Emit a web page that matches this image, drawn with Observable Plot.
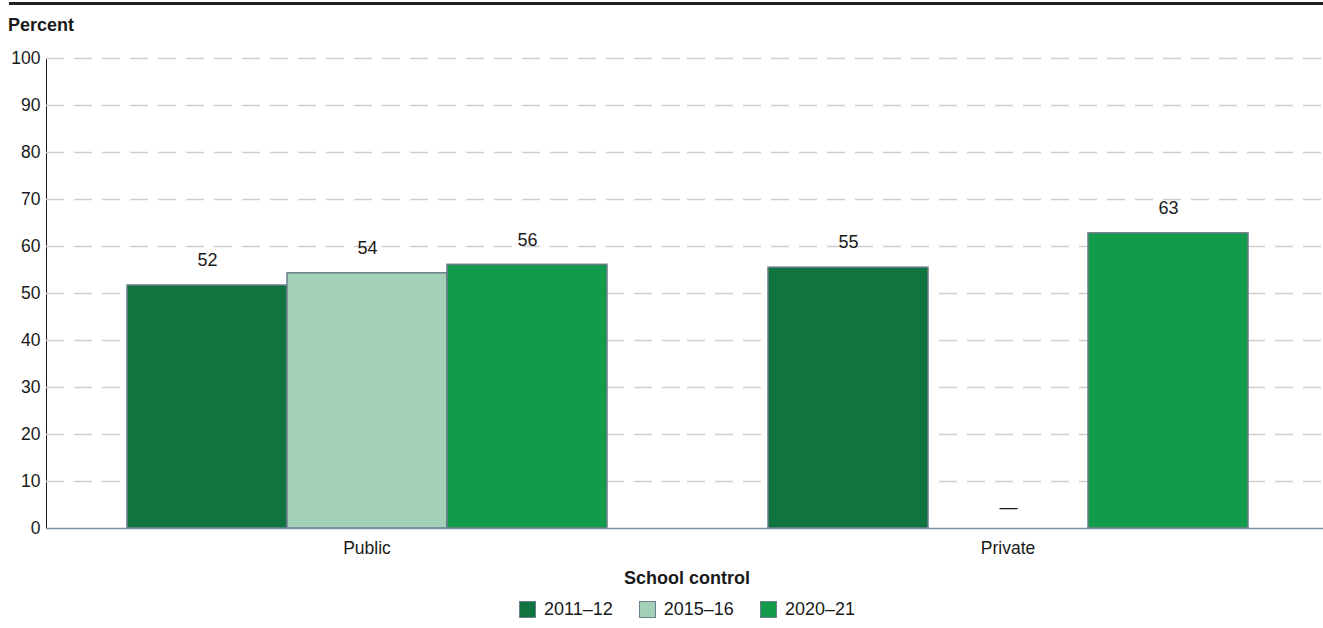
<!DOCTYPE html>
<html>
<head>
<meta charset="utf-8">
<script src="https://cdn.jsdelivr.net/npm/d3@7"></script>
<script src="https://cdn.jsdelivr.net/npm/@observablehq/plot@0.6"></script>
<style>
  html, body { margin: 0; padding: 0; background: #fff; }
  body { width: 1323px; height: 628px; position: relative; overflow: hidden;
         font-family: "Liberation Sans", Arial, sans-serif; color: #1a1a1a; }
  #topline { position: absolute; top: 2px; left: 9px; right: 0; height: 3px; background: #231f20; }
  #ylabel { position: absolute; top: 14px; left: 8px; font-weight: bold; font-size: 18px; line-height: 22px; }
  #chart { position: absolute; top: 40px; left: 0; width: 1328px; }
  #chart svg { max-width: none !important; }
  #xlabel { position: absolute; top: 567px; left: 46px; width: 1282px; text-align: center;
            font-weight: bold; font-size: 18px; line-height: 22px; }
  #legend { position: absolute; top: 598px; left: 46px; width: 1282px; display: flex; justify-content: center;
            align-items: center; font-size: 18px; line-height: 22px; }
  .item { display: flex; align-items: center; margin: 0 13px; }
  .sw { width: 15px; height: 15px; border: 1px solid #6b7e8c; margin-right: 8px; }
</style>
</head>
<body>
<div id="topline"></div>
<div id="ylabel">Percent</div>
<div id="chart"></div>
<div id="xlabel">School control</div>
<div id="legend"></div>
<script>
const groups = ["Public", "Private"];
const years = ["2011–12", "2015–16", "2020–21"];
const publicValues = [51.7, 54.3, 56.1];
const privateValues = [55.5, null, 62.8];
const valueLabels = { Public: ["52", "54", "56"], Private: ["55", "—", "63"] };
const colors = ["#0f743f", "#a2d1b7", "#129b4a"];
const yTicks = [0, 10, 20, 30, 40, 50, 60, 70, 80, 90, 100];

const rows = [];
groups.forEach((g) => {
  const vals = g === "Public" ? publicValues : privateValues;
  years.forEach((y, i) => rows.push({ group: g, year: y, value: vals[i], label: valueLabels[g][i] }));
});
const present = rows.filter((d) => d.value != null);
const missing = rows.filter((d) => d.value == null);

const chart = Plot.plot({
  width: 1328,
  height: 550,
  marginLeft: 46,
  marginRight: 0,
  marginTop: 18,
  marginBottom: 62,
  style: { fontFamily: "'Liberation Sans', Arial, sans-serif", fontSize: "17.5px", color: "#1a1a1a", background: "transparent", maxWidth: "none" },
  fx: { domain: groups, padding: 0, label: null, axis: "bottom", tickSize: 0, tickPadding: 13 },
  x: { domain: years, paddingInner: 0, paddingOuter: 0.5, axis: null },
  y: { domain: [0, 100], ticks: yTicks, label: null, tickSize: 0, tickPadding: 6, line: true },
  color: { domain: years, range: colors },
  marks: [
    Plot.ruleY(yTicks.filter((t) => t > 0), { stroke: "#cdcdcd", strokeWidth: 1.3, strokeDasharray: "18,10" }),
    Plot.barY(present, { fx: "group", x: "year", y: "value", fill: "year", stroke: "#6b7e8c", strokeWidth: 1.5 }),
    Plot.text(present, { fx: "group", x: "year", y: "value", text: "label", dy: -25, fill: "#1a1a1a", fontSize: 18 }),
    Plot.text(missing, { fx: "group", x: "year", y: 0, text: "label", dy: -21, fill: "#1a1a1a", fontSize: 18 }),
    Plot.ruleY([0], { stroke: "#7d909e", strokeWidth: 1.6 })
  ]
});
document.getElementById("chart").appendChild(chart);

const legend = document.getElementById("legend");
years.forEach((y, i) => {
  const item = document.createElement("div");
  item.className = "item";
  const sw = document.createElement("div");
  sw.className = "sw";
  sw.style.background = colors[i];
  const t = document.createElement("span");
  t.textContent = y;
  item.appendChild(sw);
  item.appendChild(t);
  legend.appendChild(item);
});
</script>
</body>
</html>
